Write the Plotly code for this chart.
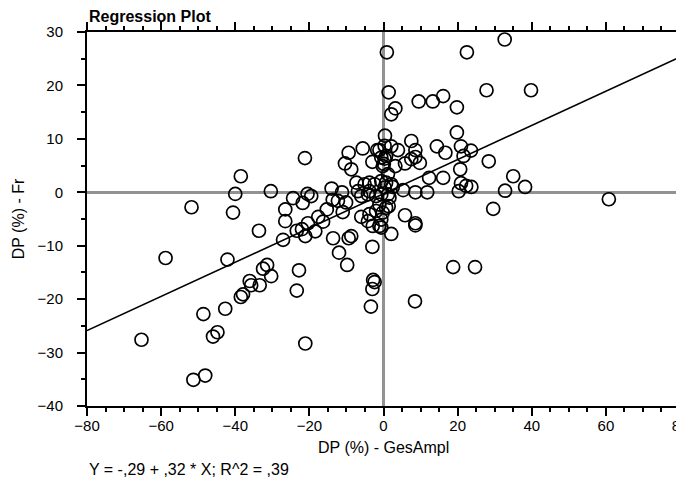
import plotly.graph_objects as go

# Observed points: DP (%) - GesAmpl (x) vs DP (%) - Fr (y)
x_gesampl = [
    -65.3, -58.8, -51.8, -51.3, -48.1, -48.6, -46.0, -44.8, -42.7, -42.1,
    -40.6, -40.0, -38.5, -38.5, -37.9, -36.1, -35.7, -33.4, -32.5, -31.4,
    -30.3, -33.6, -30.4, -27.1, -26.5, -26.5, -24.4, -23.4, -22.8, -21.1,
    -23.4, -22.0, -21.1, -20.4, -18.4, -21.2, -21.8, -20.5, -19.5, -17.6,
    -16.3, -15.3, -14.0, -11.2, -13.7, -12.3, -10.1, -11.0, -13.6, -12.0,
    -9.8, -9.4, -8.7, -9.4, -5.6, -10.4, -8.7, -3.0, -1.7, -7.3,
    -6.0, -3.0, -2.8, -2.4, -3.0, -3.4, -2.9, -0.6, 0.4, 0.9,
    32.7, 22.5, 1.4, 27.8, 39.8, 9.5, 13.3, 16.1, 19.8, 3.2,
    2.1, 19.8, 7.5, 14.4, 16.7, 20.9, 23.6, 21.6, 8.6, 8.6,
    7.5, 5.8, 9.8, 3.9, 2.1, -1.1, 0.3, -0.2, 3.2, 1.2,
    28.4, 20.7, 12.3, 16.1, 35.0, 38.2, 32.8, 20.9, 20.3, 22.3,
    23.7, 5.3, 8.6, 11.8, 2.5, 60.8, 29.6, 5.8, 8.6, 8.6,
    2.1, 1.4, 18.8, 24.7, 8.5,
    -6.9, -6.0, -4.2, -2.0, -0.6, -5.1, -3.8, -2.4, -0.6, 0.3,
    -0.6, 0.1, 0.7, 0.3, 2.1, 0.7, -4.2, -1.1, -3.8, -2.0,
    -1.1, -3.8, 0.7, -0.2, -0.6, 1.2, 1.6,
]
y_fr = [
    -27.6, -12.3, -2.8, -35.1, -34.3, -22.8, -27.0, -26.2, -21.8, -12.6,
    -3.8, -0.3, 3.0, -19.6, -19.1, -16.6, -17.4, -17.4, -14.3, -13.6,
    -15.7, -7.2, 0.2, -8.9, -5.4, -3.2, -1.1, -18.4, -14.6, -28.3,
    -7.2, -6.9, -8.2, -5.8, -7.3, 6.4, -2.0, -0.3, -0.7, -4.6,
    -5.5, -3.2, 0.7, 0.0, -1.4, -1.6, -1.9, -3.7, -8.6, -11.3,
    -13.6, -8.6, -8.2, 7.4, 8.2, 5.4, 4.3, 5.7, 7.9, 1.8,
    -4.6, -10.2, -16.4, -16.8, -18.1, -21.4, -6.3, -6.6, 10.6, 26.2,
    28.6, 26.2, 18.7, 19.1, 19.1, 17.0, 17.0, 18.0, 15.9, 15.7,
    14.6, 11.2, 9.6, 8.6, 7.4, 8.6, 7.8, 6.8, 7.9, 6.6,
    6.2, 5.4, 5.5, 7.9, 8.6, 7.9, 6.3, 4.9, 4.9, 3.4,
    5.8, 4.3, 2.7, 2.7, 3.0, 1.0, 0.3, 1.7, 0.2, 1.2,
    1.0, 0.4, 0.0, 0.0, 1.0, -1.3, -3.1, -4.3, -5.8, -6.2,
    -7.8, -2.6, -14.0, -14.0, -20.4,
    0.2, -0.7, -0.4, -0.7, -0.4, 1.5, 1.8, 1.5, 2.1, 0.9,
    6.5, 5.3, 6.8, 8.7, 1.5, 1.8, -5.4, -6.3, -4.1, -3.5,
    -2.3, 0.2, -2.9, -3.8, -5.1, -0.4, -1.0,
]

# Fitted regression: Y = -,29 + ,32 * X
intercept = -0.29
slope = 0.32
x_range = [-80, 80]
y_range = [-40, 30]

FONT = "Liberation Sans, Arial, Helvetica, sans-serif"

# The page body has an 8px default margin, so the figure is drawn 8px
# smaller so the plot lands where it does in the reference.
W, H = 676, 482
PLOT_TOP, PLOT_H = 24, 374

fig = go.Figure()
fig.add_trace(go.Scatter(
    x=x_range,
    y=[intercept + slope * v for v in x_range],
    mode="lines",
    line=dict(color="black", width=1.6),
    hoverinfo="skip",
    showlegend=False,
))
fig.add_trace(go.Scatter(
    x=x_gesampl, y=y_fr,
    mode="markers",
    marker=dict(symbol="circle-open", size=13, color="black",
                line=dict(width=1.7, color="black")),
    showlegend=False,
))

axis_common = dict(
    showgrid=False,
    showline=True, linecolor="black", linewidth=2,
    mirror="ticks",
    ticks="outside", ticklen=8, tickwidth=2, tickcolor="black",
    zeroline=True, zerolinecolor="#929292", zerolinewidth=3,
    tickfont=dict(family=FONT, size=15, color="black"),
    title_font=dict(family=FONT, size=16, color="black"),
    ticklabeloverflow="allow",
)

fig.update_xaxes(
    range=x_range, dtick=20, tick0=-80,
    minor=dict(dtick=5, ticks="outside", ticklen=4, tickwidth=2, tickcolor="black"),
    ticklabelstandoff=-3,
    **axis_common,
)
fig.update_yaxes(
    range=y_range, dtick=10, tick0=-40,
    minor=dict(dtick=5, ticks="outside", ticklen=4, tickwidth=2, tickcolor="black"),
    title_text="DP (%) - Fr", title_standoff=9, ticklabelstandoff=11,
    **axis_common,
)

def paper_y(page_y):
    fig_y = page_y - 8
    return (PLOT_TOP + PLOT_H - fig_y) / PLOT_H

fig.update_layout(
    width=W, height=H,
    margin=dict(l=79, r=4, t=PLOT_TOP, b=H - PLOT_TOP - PLOT_H, autoexpand=False),
    paper_bgcolor="white", plot_bgcolor="white",
    font=dict(family=FONT, size=15, color="black"),
    title=dict(text="<b>Regression Plot</b>", x=81 / W, xanchor="left",
               xref="container", y=1 - 3 / H, yanchor="top",
               pad=dict(t=0, b=0, l=0, r=0),
               font=dict(family=FONT, size=16, color="black")),
    annotations=[
        dict(text="DP (%) - GesAmpl", xref="paper", yref="paper",
             x=0.5, y=paper_y(447), xanchor="center", yanchor="middle",
             showarrow=False, font=dict(family=FONT, size=16, color="black")),
        dict(text="Y = -,29 + ,32 * X; R^2 = ,39", xref="paper", yref="paper",
             x=0, y=paper_y(469), xanchor="left", yanchor="middle",
             showarrow=False, font=dict(family=FONT, size=16, color="black")),
    ],
)

fig.write_html("out.html")
